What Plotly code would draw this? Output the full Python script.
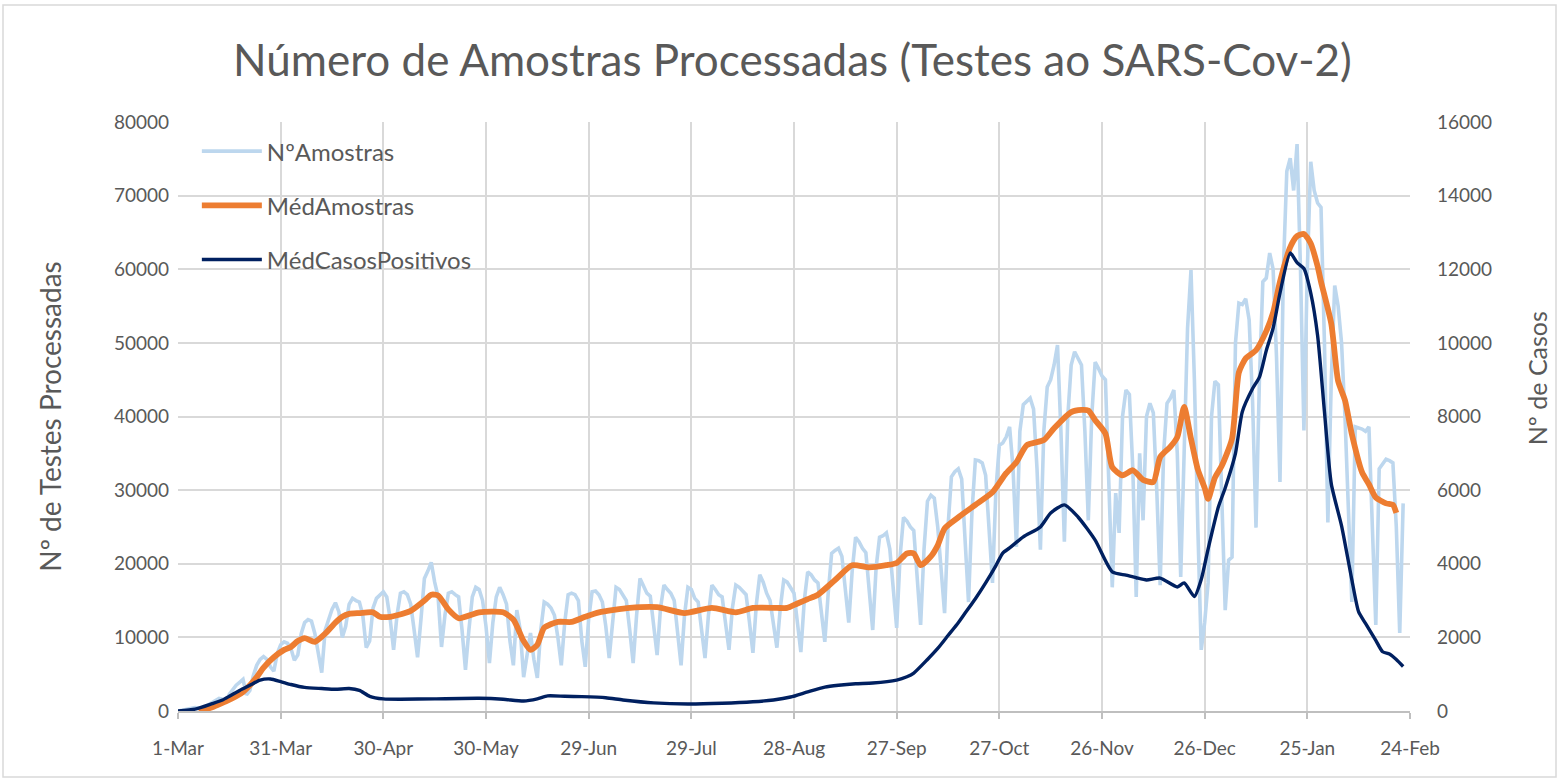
import pandas as pd
import plotly.graph_objects as go

# ---------------- data ----------------
start_date = "2020-03-01"

# NºAmostras: daily values, day 0 = 1-Mar-2020
n_amostras = [
    0, 80, 150, 250, 350, 450, 400,
    350, 600, 900, 1200, 1400, 1700, 1600,
    1300, 2300, 3000, 3500, 3900, 4300, 2200,
    2800, 4800, 6200, 7000, 7400, 7000, 6000,
    5400, 7800, 9000, 9400, 9200, 8500, 6900,
    7600, 10500, 12000, 12400, 12200, 10500, 8000,
    5200, 11000, 12600, 13800, 14700, 13500, 10000,
    11500, 14500, 15300, 15000, 14800, 13000, 8600,
    9500, 14000, 15300, 15800, 16200, 15500, 12500,
    8300, 13000, 16000, 16200, 15800, 14500, 11000,
    7300, 12500, 18000, 19000, 20200, 17500, 15500,
    8700, 13000, 16000, 16200, 15800, 15500, 11000,
    5600, 11000, 15500, 16800, 16500, 15000, 11500,
    6500, 12000, 15500, 16800, 15800, 14500, 9500,
    6200, 13700, 11000, 4600, 8000, 10600, 7000,
    4500, 11000, 14800, 14500, 14000, 13000, 10000,
    6200, 12000, 15800, 16000, 15800, 15000, 9500,
    6000, 12500, 16200, 16300, 15800, 14800, 11500,
    7200, 12500, 16800, 16500, 15700, 15000, 11000,
    6500, 13000, 18000, 17000, 16000, 15600, 12000,
    7600, 14000, 17100, 16500, 16000, 15000, 11000,
    6200, 13000, 16800, 16500, 15300, 14800, 11000,
    7200, 13000, 17100, 16500, 15800, 15500, 11500,
    8300, 14000, 17100, 16800, 16200, 15800, 12000,
    7900, 14500, 18500, 17500, 16000, 15000, 12000,
    8600, 14000, 17800, 17500, 16800, 16000, 12000,
    8000, 15000, 18900, 18500, 17800, 17400, 13500,
    9400, 16000, 21400, 21800, 22100, 21000, 16500,
    12000, 19000, 23600, 23000, 22100, 21500, 16000,
    11000, 19500, 23600, 23800, 24200, 22000, 16000,
    11300, 21000, 26300, 25800, 25000, 24500, 18000,
    11700, 22000, 28500, 29300, 28900, 25000, 19000,
    13300, 25000, 31800, 32500, 32900, 31500, 22000,
    14800, 27000, 34100, 34000, 33700, 32000, 25000,
    17400, 30000, 36100, 36400, 37200, 38600, 33000,
    22300, 38000, 41600, 42000, 42500, 41000, 33000,
    21900, 38000, 44000, 45000, 47000, 49700, 38000,
    23000, 40000, 47000, 48800, 48000, 47000, 38000,
    25900, 40000, 47400, 46500, 45500, 45000, 32000,
    16800, 29600, 24200, 40000, 43600, 43000, 33000,
    15500, 35000, 25900, 40000, 41800, 40500, 30000,
    17100, 35000, 41800, 42500, 43600, 35000, 18200,
    35000, 52000, 59900, 45000, 25000, 8300, 12000,
    17400, 40000, 44800, 44300, 28000, 13700, 20500,
    20900, 50000, 55400, 55200, 56000, 53100, 42000,
    24900, 45000, 58300, 58800, 62200, 60000, 48000,
    31100, 60000, 73300, 75100, 70700, 77000, 60000,
    38100, 60000, 74600, 70700, 69000, 68400, 50000,
    25600, 45000, 57800, 55000, 50000, 40000, 28000,
    14800, 38600, 38500, 38300, 38000, 38600, 25000,
    11700, 32900, 33500, 34200, 34000, 33700, 25000,
    10600, 28200,
]

# MédAmostras (7-day mean): day offsets and values
med_amostras_days = [
    6, 8, 10, 12, 14, 17, 19, 21, 23, 25, 28, 31, 33, 35, 37, 40, 43, 46, 48, 50,
    53, 57, 59, 62, 64, 68, 72, 74, 76, 79, 82, 88, 95, 98, 101, 103, 105, 107, 111,
    115, 119, 123, 132, 140, 148, 156, 163, 168, 175, 178, 181, 184, 187, 192, 197,
    202, 207, 210, 213, 215, 217, 220, 222, 224, 228, 233, 238, 242, 245, 248, 253,
    256, 261, 264, 266, 268, 271, 273, 276, 279, 282, 285, 287, 290, 292, 294, 296,
    298, 300, 301, 303, 305, 308, 310, 312, 315, 318, 320, 322, 325, 327, 329, 331,
    333, 334, 337, 339, 341, 343, 346, 348, 350, 353, 355, 356,
]
med_amostras = [
    100, 250, 500, 900, 1300, 2000, 2600, 3500, 4600, 5900, 7300, 8300, 8700, 9500,
    9900, 9400, 10500, 12000, 12800, 13200, 13300, 13400, 12800, 12800, 13000, 13600,
    15000, 15800, 15700, 13800, 12600, 13400, 13400, 12400, 9500, 8300, 9000, 11300,
    12100, 12100, 12800, 13400, 14000, 14100, 13300, 14000, 13400, 14000, 14000, 14000,
    14600, 15200, 15800, 17800, 19800, 19500, 19800, 20100, 21400, 21400, 19800, 21000,
    22500, 24800, 26300, 28000, 29700, 32300, 33800, 36100, 36800, 38400, 40600, 40900,
    40800, 39500, 37700, 33100, 32000, 32700, 31400, 31100, 34500, 35900, 37200, 41300,
    37000, 32800, 30300, 28800, 31700, 33300, 37000, 46000, 47900, 49000, 51600, 54100,
    58300, 63000, 64500, 64800, 63500, 60400, 58300, 52600, 44800, 42200, 37600, 32400,
    30800, 29000, 28200, 28000, 26900,
]

# MédCasosPositivos (7-day mean, right axis)
med_casos_days = [
    0, 5, 10, 13, 15, 18, 21, 24, 27, 30, 33, 37, 42, 46, 50, 53, 56, 60, 65, 75, 88,
    95, 101, 105, 108, 113, 118, 125, 130, 139, 149, 159, 168, 174, 179, 184, 189, 193,
    198, 203, 210, 213, 215, 219, 222, 225, 228, 230, 233, 236, 239, 241, 243, 247, 252,
    255, 259, 263, 268, 273, 277, 280, 283, 287, 292, 294, 297, 299, 301, 304, 306, 309,
    311, 314, 316, 318, 320, 322, 325, 327, 329, 331, 333, 335, 337, 340, 343, 345, 347,
    350, 352, 354, 356, 358,
]
med_casos = [
    0, 50, 200, 300, 400, 560, 700, 840, 870, 800, 720, 640, 610, 590, 610, 560, 400,
    330, 320, 330, 345, 320, 270, 330, 410, 400, 390, 360, 300, 220, 190, 210, 250, 300,
    380, 520, 650, 700, 740, 760, 840, 930, 1030, 1400, 1700, 2050, 2400, 2660, 3050,
    3480, 3950, 4290, 4430, 4730, 5000, 5380, 5600, 5270, 4640, 3780, 3690, 3620, 3560,
    3610, 3370, 3480, 3110, 3570, 4400, 5540, 6060, 7000, 8130, 8760, 9070, 9790, 10400,
    11350, 12440, 12180, 12020, 11350, 10200, 8130, 6170, 5030, 3570, 2690, 2380, 1920,
    1610, 1550, 1400, 1210,
]

tick_days = [0, 30, 60, 90, 120, 150, 180, 210, 240, 270, 300, 330, 360]
tick_labels = ["1-Mar", "31-Mar", "30-Apr", "30-May", "29-Jun", "29-Jul", "28-Aug",
               "27-Sep", "27-Oct", "26-Nov", "26-Dec", "25-Jan", "24-Feb"]

title_text = "Número de Amostras Processadas (Testes ao SARS-Cov-2)"
left_title = "Nº de Testes Processadas"
right_title = "Nº de Casos"

# ---------------- figure ----------------
base = pd.Timestamp(start_date)
def to_dates(days):
    return [base + pd.Timedelta(days=d) for d in days]

x_daily = to_dates(range(len(n_amostras)))

FONT = "Lato, 'Open Sans', sans-serif"
GREY_TXT = "#595959"
GRID = "#D9D9D9"

fig = go.Figure()
fig.add_trace(go.Scatter(
    x=x_daily, y=n_amostras, name="NºAmostras", mode="lines",
    line=dict(color="#BDD7EE", width=3.6), legendgroup="a",
))
fig.add_trace(go.Scatter(
    x=to_dates(med_amostras_days), y=med_amostras, name="MédAmostras", mode="lines",
    line=dict(color="#ED7D31", width=5.8, shape="spline", smoothing=0.6), legendgroup="b",
))
fig.add_trace(go.Scatter(
    x=to_dates(med_casos_days), y=med_casos, name="MédCasosPositivos", mode="lines",
    line=dict(color="#002060", width=3.4, shape="spline", smoothing=0.6), legendgroup="c",
    yaxis="y2",
))

PW, PH = 1232, 589  # plot area size in px (for paper-relative border placement)

fig.update_layout(
    width=1560, height=780,
    paper_bgcolor="white", plot_bgcolor="white",
    margin=dict(l=178, r=150, t=122, b=69, autoexpand=False),
    font=dict(family=FONT, color=GREY_TXT, size=19),
    title=dict(text=title_text, x=0.508, xanchor="center", y=0.922, yanchor="middle",
               font=dict(family=FONT, size=44, color=GREY_TXT)),
    showlegend=True,
    legend=dict(x=0.0153, y=0.988, xanchor="left", yanchor="top",
                bgcolor="rgba(0,0,0,0)", font=dict(size=24, color=GREY_TXT),
                itemwidth=60, tracegroupgap=20),
    xaxis=dict(
        range=[base, base + pd.Timedelta(days=360)], automargin=False,
        tickvals=to_dates(tick_days), ticktext=tick_labels,
        showgrid=True, gridcolor=GRID, gridwidth=2,
        showline=True, linecolor="#BFBFBF", linewidth=2,
        ticks="outside", ticklen=6, tickcolor="#BFBFBF", tickwidth=2,
        tickfont=dict(size=19, color=GREY_TXT), ticklabelstandoff=13,
    ),
    yaxis=dict(
        range=[0, 80000], dtick=10000, tickformat="d", automargin=False,
        showgrid=True, gridcolor=GRID, gridwidth=2, zeroline=False,
        title=dict(text=left_title, standoff=44, font=dict(size=28, color=GREY_TXT)),
        tickfont=dict(size=19, color=GREY_TXT), ticklabelstandoff=8,
    ),
    yaxis2=dict(
        range=[0, 16000], dtick=2000, tickformat="d", overlaying="y", side="right",
        showgrid=False, zeroline=False, automargin=False,
        tickfont=dict(size=19, color=GREY_TXT), ticklabelstandoff=26,
    ),
    annotations=[dict(text=right_title, textangle=-90, xref="paper", yref="paper",
                      x=1 + 127 / PW, y=0.565, xanchor="center", yanchor="middle",
                      showarrow=False, font=dict(size=25, color=GREY_TXT))],
    shapes=[dict(type="rect", xref="paper", yref="paper",
                 x0=-175 / PW, x1=1.0 + 146 / PW, y0=-66 / PH, y1=1.0 + 117 / PH,
                 line=dict(color="#D9D9D9", width=1.5), fillcolor="rgba(0,0,0,0)",
                 layer="below")],
)

fig.write_html("out.html", config={"displayModeBar": False},
               post_script="document.body.style.margin='0';")
